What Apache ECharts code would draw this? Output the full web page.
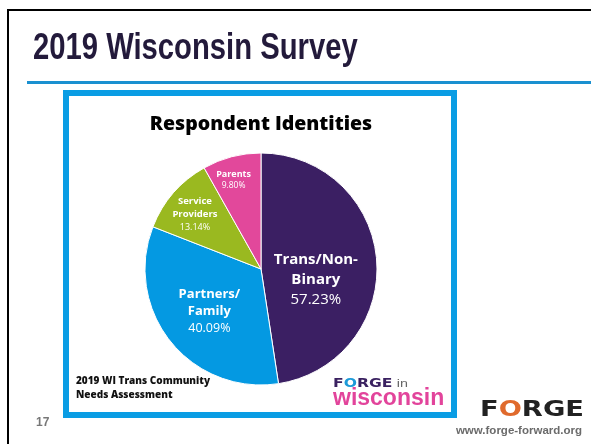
<!DOCTYPE html>
<html>
<head>
<meta charset="utf-8">
<script src="https://cdn.jsdelivr.net/npm/echarts@6/dist/echarts.min.js"></script>
<style>
  html, body { margin: 0; padding: 0; background: #fff; }
  #chart { width: 591px; height: 444px; }
</style>
</head>
<body>
<div id="chart"></div>
<script>
// data
const categories = ['Trans/Non-Binary', 'Partners/Family', 'Service Providers', 'Parents'];
const labelNames = ['Trans/Non-\nBinary', 'Partners/\nFamily', 'Service\nProviders', 'Parents'];
const values = [57.23, 40.09, 13.14, 9.80];
const colors = ['#3b1f63', '#0499e2', '#9ab920', '#e2489b'];

// label size per slice (big, medium, small) and nudge of the inside label
const labelSize = ['l', 'm', 's', 'x'];
const labelShift = [[-6, 15], [-4, 4], [-20, -15], [-12, -30]];

const myChart = echarts.init(document.getElementById('chart'));

const option = {
  animation: false,
  backgroundColor: '#fff',
  graphic: [
    // slide frame
    { type: 'rect', shape: { x: 7, y: 9, width: 600, height: 2 }, style: { fill: '#000' } },
    { type: 'rect', shape: { x: 7, y: 9, width: 2, height: 440 }, style: { fill: '#000' } },
    // slide title + underline
    {
      type: 'text', x: 33, y: 67, scaleX: 0.79,
      style: {
        text: '2019 Wisconsin Survey', fill: '#231a3b',
        font: 'bold 37px "Liberation Sans", sans-serif',
        verticalAlign: 'bottom'
      }
    },
    { type: 'rect', shape: { x: 27, y: 81, width: 570, height: 3 }, style: { fill: '#1a90d0' } },
    // blue box
    {
      type: 'rect', shape: { x: 66, y: 93, width: 388, height: 322 },
      style: { fill: 'none', stroke: '#0a9de4', lineWidth: 6 }
    },
    {
      type: 'text', x: 261, y: 124,
      style: {
        text: 'Respondent Identities', fill: '#000',
        font: '800 19.5px "Open Sans", sans-serif',
        align: 'center', verticalAlign: 'middle'
      }
    },
    {
      type: 'text', x: 76, y: 388,
      style: {
        text: '2019 WI Trans Community\nNeeds Assessment', fill: '#111',
        font: '800 10px "Open Sans", sans-serif', lineHeight: 14,
        verticalAlign: 'middle'
      }
    },
    // FORGE in wisconsin
    {
      type: 'text', x: 333, y: 384, scaleX: 1.3,
      style: {
        text: '{f|F}{o|O}{f|RGE} {i|in}',
        verticalAlign: 'middle',
        rich: {
          f: { fill: '#3a2160', font: 'bold 12px "DejaVu Sans", sans-serif' },
          o: { fill: '#1d9ad8', font: 'bold 12px "DejaVu Sans", sans-serif' },
          i: { fill: '#666', font: '11px "Liberation Sans", sans-serif' }
        }
      }
    },
    {
      type: 'text', x: 333, y: 399,
      style: {
        text: 'wisconsin', fill: '#e2449b',
        font: 'bold 23px "Liberation Sans", sans-serif',
        verticalAlign: 'middle'
      }
    },
    // footer
    {
      type: 'text', x: 36, y: 423,
      style: { text: '17', fill: '#777', font: 'bold 12px "Liberation Sans", sans-serif', verticalAlign: 'middle' }
    },
    {
      type: 'text', x: 480, y: 411, scaleX: 1.3,
      style: {
        text: '{f|F}{o|O}{f|RGE}',
        verticalAlign: 'middle',
        rich: {
          f: { fill: '#222', font: 'bold 21px "DejaVu Sans", sans-serif' },
          o: { fill: '#e06a2c', font: 'bold 21px "DejaVu Sans", sans-serif' }
        }
      }
    },
    {
      type: 'text', x: 582, y: 431,
      style: {
        text: 'www.forge-forward.org', fill: '#6b6b6b',
        font: 'bold 11.5px "Liberation Sans", sans-serif',
        align: 'right', verticalAlign: 'middle'
      }
    }
  ],
  series: [
    {
      name: 'Respondent Identities',
      type: 'pie',
      center: [261, 269],
      radius: 116,
      startAngle: 90,
      clockwise: true,
      silent: true,
      itemStyle: { borderColor: '#fff', borderWidth: 1 },
      label: {
        show: true,
        position: 'inside',
        color: '#fff',
        fontFamily: '"Open Sans", sans-serif',
        formatter: function (p) {
          const s = labelSize[p.dataIndex];
          return '{' + s + 'b|' + labelNames[p.dataIndex] + '}\n{' + s + 'p|' + values[p.dataIndex].toFixed(2) + '%}';
        },
        rich: {
          lb: { fontSize: 15, fontWeight: 'bold', color: '#fff', lineHeight: 20, fontFamily: '"Open Sans"' },
          lp: { fontSize: 15, color: '#fff', lineHeight: 20, fontFamily: '"Open Sans"' },
          mb: { fontSize: 13, fontWeight: 'bold', color: '#fff', lineHeight: 17, fontFamily: '"Open Sans"' },
          mp: { fontSize: 12.5, color: '#fff', lineHeight: 17, fontFamily: '"Open Sans"' },
          sb: { fontSize: 9.5, fontWeight: 'bold', color: '#fff', lineHeight: 13, fontFamily: '"Open Sans"' },
          sp: { fontSize: 9, color: '#fff', lineHeight: 13, fontFamily: '"Open Sans"' },
          xb: { fontSize: 9, fontWeight: 'bold', color: '#fff', lineHeight: 12, fontFamily: '"Open Sans"' },
          xp: { fontSize: 8.5, color: '#fff', lineHeight: 12, fontFamily: '"Open Sans"' }
        }
      },
      labelLine: { show: false },
      labelLayout: function (params) {
        const d = labelShift[params.dataIndex];
        return { dx: d[0], dy: d[1] };
      },
      data: categories.map(function (c, i) {
        return { name: c, value: values[i], itemStyle: { color: colors[i] } };
      })
    }
  ]
};

myChart.setOption(option);
</script>
</body>
</html>
